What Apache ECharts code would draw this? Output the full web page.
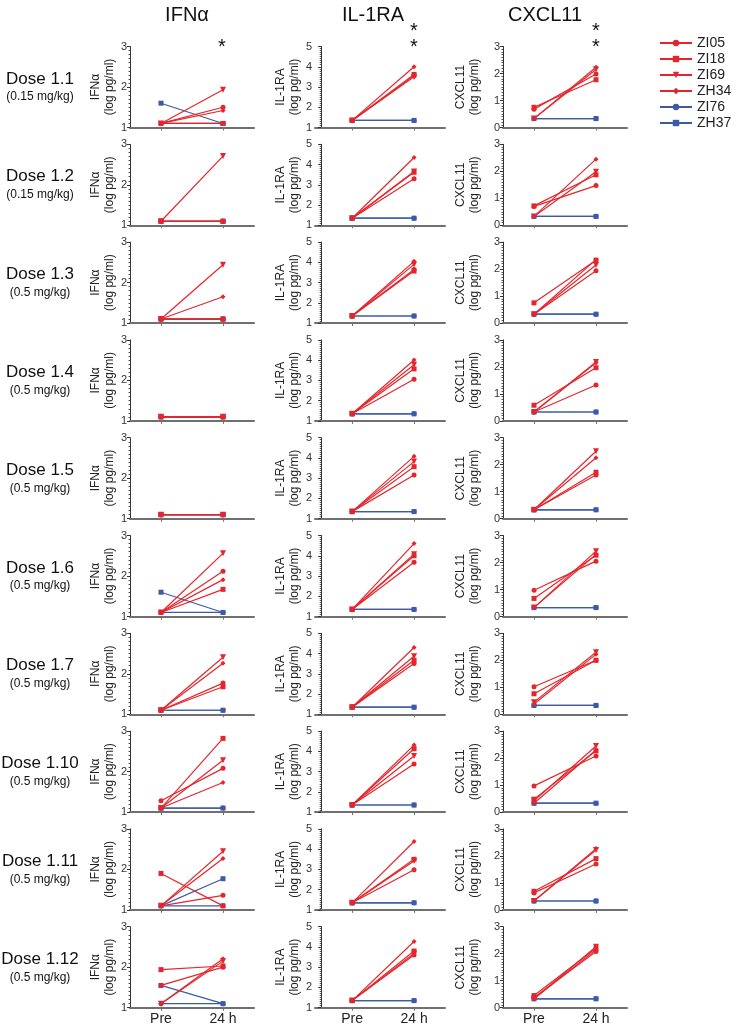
<!DOCTYPE html>
<html><head><meta charset="utf-8">
<script src="https://cdn.jsdelivr.net/npm/echarts@6/dist/echarts.min.js"></script>
<style>html,body{margin:0;padding:0;background:#fff}#c{width:746px;height:1029px}</style>
</head><body><div id="c"></div>
<script>
// ---------- data ----------
const timepoints = ['Pre', '24 h'];
const doses = ['Dose 1.1','Dose 1.2','Dose 1.3','Dose 1.4','Dose 1.5','Dose 1.6','Dose 1.7','Dose 1.10','Dose 1.11','Dose 1.12'];
const doseAmounts = ['(0.15 mg/kg)','(0.15 mg/kg)','(0.5 mg/kg)','(0.5 mg/kg)','(0.5 mg/kg)','(0.5 mg/kg)','(0.5 mg/kg)','(0.5 mg/kg)','(0.5 mg/kg)','(0.5 mg/kg)'];
const subjects = ['ZI05','ZI18','ZI69','ZH34','ZI76','ZH37'];
const analytes = ['IFNα','IL-1RA','CXCL11'];
const significance = ['*','*\n*','*\n*'];
const yTickMin = [1, 1, 0];
const yTickMax = [3, 5, 3];

// IFNα (log pg/ml): [Pre, 24 h] per dose row
const ifnZI05 = [[1.1,1.5],[1.1,1.1],[1.1,1.1],[1.1,1.1],[1.1,1.1],[1.1,2.12],[1.1,1.77],[1.28,2.08],[1.1,1.36],[1.55,2.0]];
const ifnZI18 = [[1.1,1.1],[1.1,1.1],[1.1,1.1],[1.1,1.1],[1.1,1.1],[1.1,1.67],[1.1,1.68],[1.1,2.82],[1.9,1.1],[1.94,2.03]];
const ifnZI69 = [[1.1,1.93],[1.1,2.71],[1.1,2.44],[1.1,1.1],[1.1,1.1],[1.1,2.56],[1.1,2.41],[1.1,2.28],[1.1,2.45],[1.1,2.15]];
const ifnZH34 = [[1.1,1.42],[1.1,1.1],[1.1,1.65],[1.1,1.1],[1.1,1.1],[1.1,1.91],[1.1,2.26],[1.1,1.73],[1.1,2.27],[1.1,2.21]];
const ifnZI76 = [[1.1,1.1],[1.1,1.1],[1.1,1.1],[1.1,1.1],[1.1,1.1],[1.1,1.1],[1.1,1.1],[1.1,1.1],[1.1,1.1],[1.1,1.1]];
const ifnZH37 = [[1.6,1.1],[1.1,1.1],[1.1,1.1],[1.1,1.1],[1.1,1.1],[1.6,1.1],[1.1,1.1],[1.1,1.1],[1.1,1.77],[1.55,1.1]];

// IL-1RA (log pg/ml)
const il1raZI05 = [[1.35,3.55],[1.35,3.3],[1.35,3.65],[1.35,3.06],[1.35,3.16],[1.35,3.68],[1.35,3.51],[1.35,3.37],[1.35,2.98],[1.35,3.6]];
const il1raZI18 = [[1.35,3.62],[1.35,3.62],[1.35,3.57],[1.35,3.57],[1.35,3.57],[1.35,4.0],[1.35,3.67],[1.35,4.13],[1.35,3.5],[1.35,3.8]];
const il1raZI69 = [[1.35,3.5],[1.35,3.66],[1.35,3.9],[1.35,3.77],[1.35,3.82],[1.35,4.08],[1.35,3.87],[1.35,3.77],[1.35,3.42],[1.35,3.68]];
const il1raZH34 = [[1.35,4.0],[1.35,4.35],[1.35,4.05],[1.35,4.01],[1.35,4.08],[1.35,4.6],[1.35,4.3],[1.35,4.31],[1.35,4.38],[1.35,4.27]];
const il1raZI76 = [[1.35,1.35],[1.35,1.35],[1.35,1.35],[1.35,1.35],[1.35,1.35],[1.35,1.35],[1.35,1.35],[1.35,1.35],[1.35,1.35],[1.35,1.35]];
const il1raZH37 = [[1.35,1.35],[1.35,1.35],[1.35,1.35],[1.35,1.35],[1.35,1.35],[1.35,1.35],[1.35,1.35],[1.35,1.35],[1.35,1.35],[1.35,1.35]];

// CXCL11 (log pg/ml)
const cxcl11ZI05 = [[0.68,1.98],[0.7,1.47],[0.33,1.94],[0.33,1.33],[0.33,1.62],[0.97,2.05],[1.02,2.0],[0.97,2.08],[0.63,1.7],[0.38,2.08]];
const cxcl11ZI18 = [[0.75,1.77],[0.72,1.87],[0.75,2.33],[0.58,1.97],[0.33,1.72],[0.67,2.27],[0.76,2.0],[0.48,2.27],[0.69,1.9],[0.45,2.2]];
const cxcl11ZI69 = [[0.33,2.15],[0.33,1.98],[0.33,2.15],[0.33,2.18],[0.33,2.5],[0.33,2.42],[0.45,2.3],[0.42,2.45],[0.33,2.22],[0.33,2.26]];
const cxcl11ZH34 = [[0.33,2.23],[0.33,2.45],[0.33,2.35],[0.33,2.15],[0.33,2.26],[0.33,2.3],[0.38,2.22],[0.33,2.3],[0.33,2.27],[0.33,2.15]];
const cxcl11ZI76 = [[0.33,0.33],[0.33,0.33],[0.33,0.33],[0.33,0.33],[0.33,0.33],[0.33,0.33],[0.33,0.33],[0.33,0.33],[0.33,0.33],[0.33,0.33]];
const cxcl11ZH37 = [[0.33,0.33],[0.33,0.33],[0.33,0.33],[0.33,0.33],[0.33,0.33],[0.33,0.33],[0.33,0.33],[0.33,0.33],[0.33,0.33],[0.33,0.33]];

// ---------- build ----------
const valuesBy = [
  [ifnZI05, ifnZI18, ifnZI69, ifnZH34, ifnZI76, ifnZH37],
  [il1raZI05, il1raZI18, il1raZI69, il1raZH34, il1raZI76, il1raZH37],
  [cxcl11ZI05, cxcl11ZI18, cxcl11ZI69, cxcl11ZH34, cxcl11ZI76, cxcl11ZH37]
];
const RED = '#e4262c', BLUE = '#3c5aa8';
const styleOf = [
  {color: RED, symbol: 'circle', size: 5, rot: 0},
  {color: RED, symbol: 'rect', size: 5, rot: 0},
  {color: RED, symbol: 'triangle', size: 6, rot: 180},
  {color: RED, symbol: 'diamond', size: 5, rot: 0},
  {color: BLUE, symbol: 'circle', size: 5, rot: 0},
  {color: BLUE, symbol: 'rect', size: 5, rot: 0}
];
const FONT = "'Liberation Sans', Arial, sans-serif";
const colLeft = [130, 315, 503];
const colWidth = [124, 130, 124];
const xMinC = [0, -0.2, 0];
const nameGapC = [13, 13, 21];
const xPos = [1, 3];
const rowTop = i => 46.5 + 97.8 * i;
const rowH = 81;

const grids = [], xAxes = [], yAxes = [], series = [], graphics = [];
for (let r = 0; r < doses.length; r++) {
  for (let c = 0; c < 3; c++) {
    const idx = grids.length;
    grids.push({left: colLeft[c], width: colWidth[c], top: rowTop(r), height: rowH, containLabel: false});
    const isBottom = r === doses.length - 1;
    xAxes.push({
      type: 'value', gridIndex: idx, min: xMinC[c], max: 4,
      splitLine: {show: false},
      axisLine: {show: true, onZero: false, lineStyle: {color: '#707070', width: 2}},
      axisTick: {show: true, customValues: xPos, length: 3, lineStyle: {color: '#707070', width: 1}},
      axisLabel: {show: isBottom, customValues: xPos, margin: 4, fontSize: 14, color: '#222', fontFamily: FONT,
        formatter: v => timepoints[xPos.indexOf(v)] || ''}
    });
    yAxes.push({
      type: 'value', gridIndex: idx, min: yTickMin[c], max: yTickMax[c], interval: 1,
      splitLine: {show: false},
      axisLine: {show: true, lineStyle: {color: '#333', width: 1}},
      axisTick: {show: true, length: 3, lineStyle: {color: '#333'}},
      minorTick: {show: true, splitNumber: 10, length: 1.5, lineStyle: {color: '#555'}},
      axisLabel: {fontSize: 11, margin: 3, color: '#333', fontFamily: FONT},
      name: analytes[c] + '\n(log pg/ml)', nameLocation: 'middle', nameRotate: 90, nameGap: nameGapC[c],
      nameTextStyle: {fontSize: 12, lineHeight: 14, color: '#222', fontFamily: FONT}
    });
    for (let s = 0; s < subjects.length; s++) {
      const st = styleOf[s];
      const v = valuesBy[c][s][r];
      series.push({
        type: 'line', name: subjects[s], xAxisIndex: idx, yAxisIndex: idx,
        data: [[xPos[0], v[0]], [xPos[1], v[1]]],
        symbol: st.symbol, symbolSize: st.size, symbolRotate: st.rot, showAllSymbol: true,
        lineStyle: {color: st.color, width: 1.2}, itemStyle: {color: st.color},
        z: st.color === BLUE ? 2 : 3, animation: false, silent: true
      });
    }
  }
  const mid = rowTop(r) + rowH / 2;
  graphics.push({type: 'text', style: {text: doses[r], x: 40, y: mid - 8, align: 'center', verticalAlign: 'middle', font: '17px ' + FONT, fill: '#111'}});
  graphics.push({type: 'text', style: {text: doseAmounts[r], x: 40, y: mid + 10, align: 'center', verticalAlign: 'middle', font: '12px ' + FONT, fill: '#111'}});
}
const titleX = [187, 373, 545];
const starX = [222, 414, 596];
for (let c = 0; c < 3; c++) {
  graphics.push({type: 'text', style: {text: analytes[c], x: titleX[c], y: 15, align: 'center', verticalAlign: 'middle', font: '20px ' + FONT, fill: '#111'}});
  const lines = significance[c].split('\n');
  lines.forEach((t, k) => {
    const y = lines.length === 1 ? 47 : (k === 0 ? 31 : 47);
    graphics.push({type: 'text', style: {text: t, x: starX[c], y: y, align: 'center', verticalAlign: 'middle', font: '20px ' + FONT, fill: '#111'}});
  });
}

const chart = echarts.init(document.getElementById('c'), null, {renderer: 'canvas'});
chart.setOption({
  animation: false,
  backgroundColor: '#fff',
  grid: grids, xAxis: xAxes, yAxis: yAxes, series: series,
  legend: {
    data: subjects, orient: 'vertical', left: 659, top: 35, padding: 0,
    itemWidth: 32, itemHeight: 8, itemGap: 0,
    textStyle: {fontSize: 14, lineHeight: 16, color: '#222', fontFamily: FONT},
    selectedMode: false
  },
  graphic: graphics
});
</script>
</body></html>
